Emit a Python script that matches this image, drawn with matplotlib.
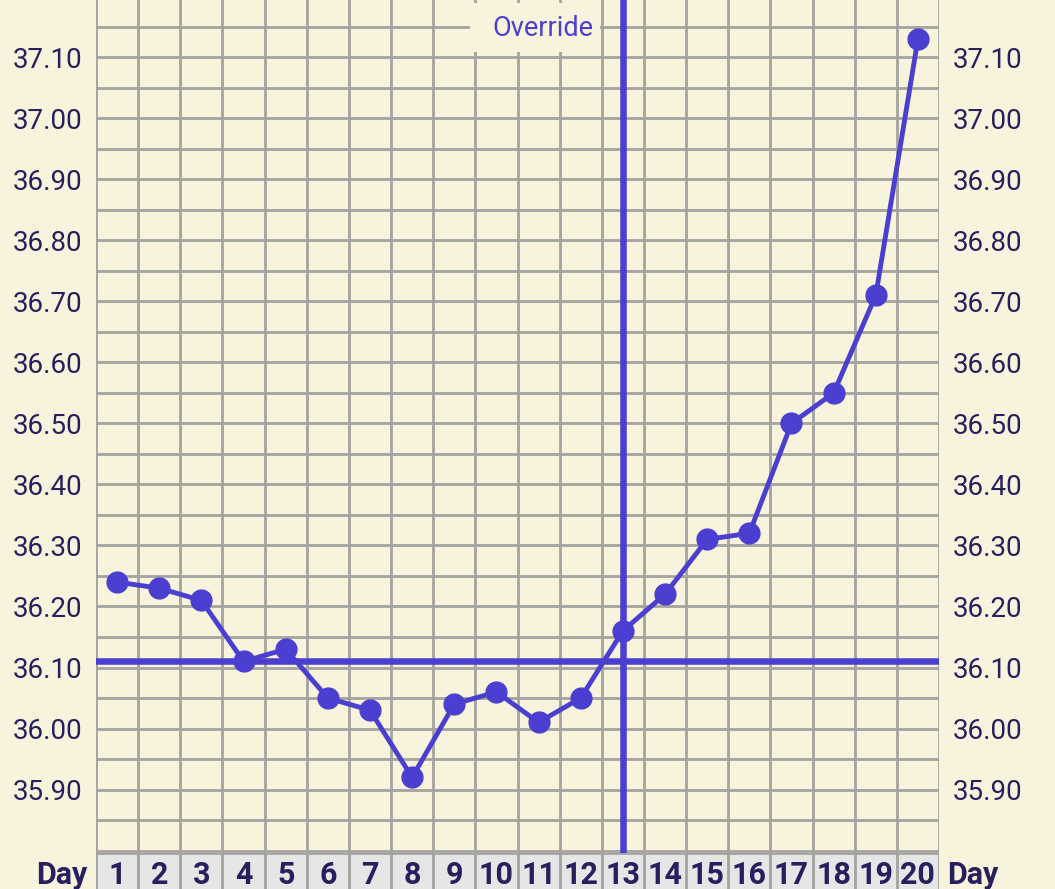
import matplotlib.pyplot as plt
import matplotlib.patches as mpatches
import numpy as np

# basal temperature per day
days = list(range(1, 21))
temps = [36.24, 36.23, 36.21, 36.11, 36.13, 36.05, 36.03, 35.92, 36.04, 36.06,
         36.01, 36.05, 36.16, 36.22, 36.31, 36.32, 36.50, 36.55, 36.71, 37.13]
cover_line = 36.11
override_day = 13
ytick_vals = [35.90, 36.00, 36.10, 36.20, 36.30, 36.40, 36.50, 36.60, 36.70,
              36.80, 36.90, 37.00, 37.10]

bg = '#f8f3dc'
grid_c = '#a3a3a0'
line_c = '#4b3fd1'
text_c = '#28205e'

plt.rcParams['font.family'] = ['Roboto', 'DejaVu Sans']

W, H = 1055, 889
fig = plt.figure(figsize=(W / 100, H / 100), dpi=100, facecolor=bg)

left, right = 96 / W, 939 / W
row_top = 853
ax = fig.add_axes([left, (H - row_top) / H, right - left, row_top / H])
ax.set_facecolor(bg)
ax.set_xlim(0.5, 20.5)
ax.set_ylim(35.796, 37.194)

# grid
for x in np.arange(0.5, 21, 1):
    ax.axvline(x, color=grid_c, lw=2, zorder=1)
for y in np.arange(35.80, 37.16, 0.05):
    ax.axhline(y, color=grid_c, lw=2, zorder=1)

for s in ax.spines.values():
    s.set_visible(False)
ax.set_xticks([])
ax.set_yticks(ytick_vals)
ax.set_yticklabels([f'{v:.2f}' for v in ytick_vals])
ax.tick_params(axis='y', length=0, labelsize=20, labelcolor=text_c, pad=10,
               left=True, right=True, labelleft=True, labelright=True)

# cover line and override line
ax.axhline(cover_line, color=line_c, lw=4.7, zorder=3)
ax.axvline(override_day, color=line_c, lw=4.7, zorder=3)

ax.plot(days, temps, color=line_c, lw=3.5, marker='o', markersize=15, zorder=4)

# label box over the grid
ax.add_patch(mpatches.Rectangle((9.37, 37.109), 3.09, 0.08, fc=bg, ec='none', zorder=2))
ax.text(11.1, 37.148, 'Override', color=line_c, fontsize=19.5, ha='center', va='center',
        zorder=5)

# day row
ax2 = fig.add_axes([left, 0, right - left, (H - row_top) / H])
ax2.set_facecolor('#e6e6e6')
ax2.set_xlim(0.5, 20.5)
ax2.set_ylim(0, 1)
for x in np.arange(0.5, 21, 1):
    ax2.axvline(x, color=grid_c, lw=2)
ax2.axhline(1, color=grid_c, lw=2)
for s in ax2.spines.values():
    s.set_visible(False)
ax2.set_xticks([])
ax2.set_yticks([])
for d in days:
    ax2.text(d, 0.38, str(d), color=text_c, fontsize=22, fontweight='bold',
             ha='center', va='center')
ax2.text(0.3, 0.38, 'Day', color=text_c, fontsize=22, fontweight='bold',
         ha='right', va='center', clip_on=False)
ax2.text(20.7, 0.38, 'Day', color=text_c, fontsize=22, fontweight='bold',
         ha='left', va='center', clip_on=False)

fig.savefig('out.png', dpi=100, facecolor=bg)
